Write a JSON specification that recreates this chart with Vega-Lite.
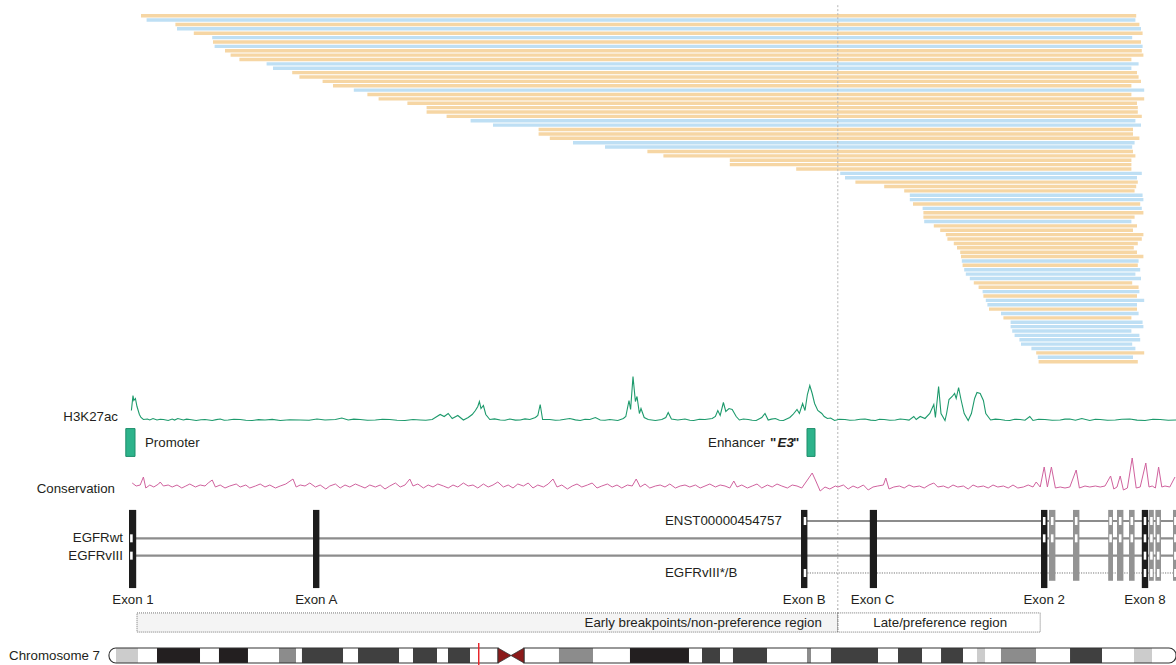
{
"$schema": "https://vega.github.io/schema/vega-lite/v6.json",
"padding": 0,
"spacing": 0,
"bounds": "flush",
"background": "white",
"resolve": {"scale": {"fill": "independent", "color": "independent"}},
"config": {"view": {"stroke": null}, "concat": {"spacing": 0}, "text": {"font": "Liberation Sans", "fontSize": 13.3, "color": "#231f20"}},
"datasets": {
"deletions": [
{"row":0,"start":1.0,"end":125.4,"group":"A"},{"row":1,"start":1.7,"end":125.3,"group":"B"},{"row":2,"start":5.3,"end":125.8,"group":"A"},{"row":3,"start":5.5,"end":126.0,"group":"B"},
{"row":4,"start":7.6,"end":126.2,"group":"A"},{"row":5,"start":9.9,"end":124.9,"group":"B"},{"row":6,"start":10.0,"end":126.0,"group":"A"},{"row":7,"start":10.2,"end":126.2,"group":"B"},
{"row":8,"start":11.5,"end":126.1,"group":"A"},{"row":9,"start":12.2,"end":126.3,"group":"A"},{"row":10,"start":13.3,"end":124.8,"group":"A"},{"row":11,"start":16.7,"end":125.7,"group":"B"},
{"row":12,"start":17.5,"end":124.8,"group":"B"},{"row":13,"start":19.9,"end":125.5,"group":"A"},{"row":14,"start":20.8,"end":125.7,"group":"A"},{"row":15,"start":23.7,"end":126.0,"group":"A"},
{"row":16,"start":25.0,"end":124.8,"group":"A"},{"row":17,"start":27.6,"end":126.4,"group":"B"},{"row":18,"start":29.3,"end":124.8,"group":"A"},{"row":19,"start":30.7,"end":126.4,"group":"A"},
{"row":20,"start":34.3,"end":125.5,"group":"A"},{"row":21,"start":36.7,"end":125.6,"group":"A"},{"row":22,"start":36.7,"end":125.6,"group":"A"},{"row":23,"start":39.2,"end":126.1,"group":"A"},
{"row":24,"start":42.2,"end":125.3,"group":"B"},{"row":25,"start":45.0,"end":126.0,"group":"B"},{"row":26,"start":50.7,"end":125.0,"group":"A"},{"row":27,"start":50.7,"end":125.0,"group":"A"},
{"row":28,"start":52.1,"end":125.8,"group":"A"},{"row":29,"start":55.0,"end":125.2,"group":"B"},{"row":30,"start":59.0,"end":124.9,"group":"B"},{"row":31,"start":64.3,"end":125.0,"group":"A"},
{"row":32,"start":66.3,"end":125.3,"group":"A"},{"row":33,"start":74.6,"end":124.8,"group":"A"},{"row":34,"start":74.6,"end":124.8,"group":"A"},{"row":35,"start":82.9,"end":124.8,"group":"A"},
{"row":36,"start":88.4,"end":126.1,"group":"B"},{"row":37,"start":89.0,"end":125.5,"group":"B"},{"row":38,"start":90.3,"end":125.6,"group":"A"},{"row":39,"start":93.9,"end":125.4,"group":"A"},
{"row":40,"start":96.4,"end":125.2,"group":"A"},{"row":41,"start":97.1,"end":126.2,"group":"B"},{"row":42,"start":97.1,"end":126.3,"group":"B"},{"row":43,"start":97.5,"end":125.9,"group":"A"},
{"row":44,"start":98.7,"end":126.1,"group":"B"},{"row":45,"start":98.8,"end":126.3,"group":"A"},{"row":46,"start":98.8,"end":125.2,"group":"A"},{"row":47,"start":98.9,"end":124.8,"group":"B"},
{"row":48,"start":100.1,"end":125.5,"group":"A"},{"row":49,"start":100.9,"end":125.0,"group":"A"},{"row":50,"start":101.6,"end":126.3,"group":"A"},{"row":51,"start":101.8,"end":126.1,"group":"A"},
{"row":52,"start":102.6,"end":125.6,"group":"A"},{"row":53,"start":103.0,"end":125.1,"group":"A"},{"row":54,"start":103.4,"end":125.5,"group":"A"},{"row":55,"start":103.5,"end":126.3,"group":"A"},
{"row":56,"start":103.6,"end":125.7,"group":"B"},{"row":57,"start":103.7,"end":125.6,"group":"A"},{"row":58,"start":103.9,"end":125.9,"group":"B"},{"row":59,"start":104.1,"end":125.3,"group":"B"},
{"row":60,"start":104.6,"end":126.0,"group":"B"},{"row":61,"start":105.1,"end":124.9,"group":"A"},{"row":62,"start":105.7,"end":125.7,"group":"A"},{"row":63,"start":106.2,"end":125.8,"group":"B"},
{"row":64,"start":106.3,"end":125.5,"group":"A"},{"row":65,"start":106.6,"end":126.4,"group":"B"},{"row":66,"start":106.8,"end":125.5,"group":"B"},{"row":67,"start":107.0,"end":125.5,"group":"A"},
{"row":68,"start":108.5,"end":125.7,"group":"B"},{"row":69,"start":108.8,"end":124.8,"group":"A"},{"row":70,"start":109.7,"end":126.2,"group":"B"},{"row":71,"start":109.7,"end":126.3,"group":"B"},
{"row":72,"start":109.9,"end":124.8,"group":"B"},{"row":73,"start":110.2,"end":125.8,"group":"B"},{"row":74,"start":110.8,"end":125.9,"group":"B"},{"row":75,"start":111.0,"end":124.9,"group":"B"},
{"row":76,"start":112.3,"end":125.3,"group":"B"},{"row":77,"start":112.9,"end":126.4,"group":"A"},{"row":78,"start":113.1,"end":125.0,"group":"B"},{"row":79,"start":113.2,"end":125.6,"group":"A"}
],
"h3k27ac": [
{"pos":-0.2,"v":10},{"pos":0.0,"v":25},{"pos":0.1,"v":20},{"pos":0.3,"v":22},{"pos":0.5,"v":14},{"pos":0.8,"v":6},{"pos":1.0,"v":3},{"pos":1.3,"v":1},{"pos":1.8,"v":1.5},{"pos":2.1,"v":0.5},
{"pos":2.5,"v":2},{"pos":3.0,"v":0.5},{"pos":3.4,"v":1.2},{"pos":3.8,"v":1},{"pos":4.4,"v":0},{"pos":4.9,"v":1.5},{"pos":5.2,"v":0.4},{"pos":5.6,"v":2},{"pos":6.3,"v":0.5},{"pos":6.7,"v":1.4},{"pos":7.1,"v":1},{"pos":7.9,"v":0},{"pos":8.5,"v":0.8},{"pos":9.0,"v":1},
{"pos":9.9,"v":0},{"pos":10.4,"v":0.9},{"pos":10.9,"v":1.5},{"pos":11.4,"v":0.2},{"pos":11.9,"v":0.5},{"pos":12.6,"v":1.3},{"pos":13.4,"v":1},{"pos":14.1,"v":0.3},{"pos":14.9,"v":0},{"pos":15.7,"v":0.9},{"pos":16.5,"v":0.5},{"pos":17.4,"v":1.1},{"pos":18.4,"v":0},{"pos":19.6,"v":0.8},{"pos":20.9,"v":0.5},{"pos":22.0,"v":0.3},{"pos":23.0,"v":1.5},{"pos":24.0,"v":0.5},
{"pos":25.3,"v":1},{"pos":26.1,"v":2.5},{"pos":26.9,"v":0.5},{"pos":27.6,"v":1.4},{"pos":28.4,"v":1},{"pos":29.3,"v":0.2},{"pos":30.3,"v":0.5},{"pos":31.2,"v":1.3},{"pos":32.1,"v":1},{"pos":33.0,"v":0.3},{"pos":34.0,"v":0},{"pos":35.0,"v":1},{"pos":35.9,"v":0.5},{"pos":36.6,"v":0.2},{"pos":37.4,"v":1},{"pos":38.4,"v":6},
{"pos":38.9,"v":4},{"pos":39.4,"v":7},{"pos":39.9,"v":2},{"pos":40.6,"v":5},{"pos":41.3,"v":0.5},{"pos":41.9,"v":3},{"pos":42.4,"v":6},{"pos":42.8,"v":10},{"pos":43.1,"v":14},{"pos":43.3,"v":19},
{"pos":43.5,"v":12},{"pos":43.8,"v":15},{"pos":44.1,"v":6},{"pos":44.6,"v":1},{"pos":45.2,"v":1.6},{"pos":45.9,"v":0.5},{"pos":46.5,"v":0.2},{"pos":47.1,"v":1.5},{"pos":47.8,"v":0.4},{"pos":48.4,"v":0.5},{"pos":49.0,"v":1.6},{"pos":49.6,"v":1},{"pos":50.3,"v":3},{"pos":50.6,"v":5},
{"pos":50.9,"v":16},{"pos":51.2,"v":1},{"pos":52.1,"v":1},{"pos":52.8,"v":0.2},{"pos":53.4,"v":0.5},{"pos":54.0,"v":1.2},{"pos":54.6,"v":2},{"pos":55.3,"v":0.6},{"pos":55.9,"v":0},{"pos":56.5,"v":1.3},{"pos":57.1,"v":1},{"pos":57.8,"v":3},{"pos":58.4,"v":0.5},{"pos":59.0,"v":0.3},{"pos":59.6,"v":1},
{"pos":60.6,"v":0},{"pos":61.3,"v":2},{"pos":61.6,"v":4},{"pos":62.0,"v":20},{"pos":62.2,"v":11},{"pos":62.5,"v":44},{"pos":62.8,"v":19},{"pos":63.0,"v":24},{"pos":63.3,"v":7},{"pos":63.5,"v":12},
{"pos":63.9,"v":3},{"pos":64.4,"v":1},{"pos":65.3,"v":0},{"pos":66.1,"v":1},{"pos":66.6,"v":3},{"pos":66.9,"v":8},{"pos":67.3,"v":1.5},{"pos":68.1,"v":0.5},{"pos":69.0,"v":1.5},{"pos":69.6,"v":0.3},{"pos":70.1,"v":0},{"pos":70.8,"v":1.2},
{"pos":71.5,"v":1},{"pos":72.4,"v":2},{"pos":72.8,"v":4},{"pos":73.1,"v":10},{"pos":73.4,"v":5},{"pos":73.8,"v":18},{"pos":74.1,"v":9},{"pos":74.5,"v":12},{"pos":74.9,"v":11},{"pos":75.4,"v":4},
{"pos":75.8,"v":0.5},{"pos":76.3,"v":1.5},{"pos":76.9,"v":1},{"pos":77.4,"v":0.2},{"pos":77.9,"v":0},{"pos":78.6,"v":3},{"pos":79.0,"v":7},{"pos":79.4,"v":0.5},{"pos":79.8,"v":1.4},{"pos":80.3,"v":2},{"pos":80.8,"v":0.3},{"pos":81.3,"v":0},{"pos":82.1,"v":3},{"pos":82.5,"v":6},
{"pos":83.0,"v":11},{"pos":83.3,"v":7},{"pos":83.7,"v":17},{"pos":84.0,"v":10},{"pos":84.3,"v":26},{"pos":84.6,"v":35},{"pos":84.9,"v":27},{"pos":85.2,"v":17},{"pos":85.6,"v":10},{"pos":86.1,"v":7},
{"pos":86.4,"v":4},{"pos":86.8,"v":2},{"pos":87.2,"v":2.5},{"pos":87.7,"v":0},{"pos":88.3,"v":1.2},{"pos":89.0,"v":1},{"pos":89.6,"v":0.2},{"pos":90.3,"v":0.5},{"pos":90.9,"v":1.3},{"pos":91.5,"v":1.5},{"pos":92.2,"v":0.4},{"pos":92.8,"v":0},{"pos":93.3,"v":1.2},{"pos":93.9,"v":1},{"pos":94.6,"v":0.2},{"pos":95.3,"v":0.5},{"pos":95.9,"v":1.5},{"pos":96.5,"v":1},
{"pos":97.0,"v":0.4},{"pos":97.6,"v":4},{"pos":97.9,"v":1},{"pos":98.4,"v":4},{"pos":99.0,"v":2},{"pos":99.6,"v":7},{"pos":100.1,"v":16},{"pos":100.3,"v":3},{"pos":100.7,"v":34},{"pos":101.0,"v":7},{"pos":101.5,"v":0},
{"pos":101.7,"v":7},{"pos":102.0,"v":21},{"pos":102.4,"v":24},{"pos":102.7,"v":27},{"pos":102.9,"v":22},{"pos":103.2,"v":33},{"pos":103.5,"v":21},{"pos":103.9,"v":7},{"pos":104.4,"v":0},{"pos":104.8,"v":7},
{"pos":105.2,"v":22},{"pos":105.5,"v":28},{"pos":105.9,"v":27},{"pos":106.3,"v":20},{"pos":106.6,"v":7},{"pos":107.2,"v":0.5},{"pos":107.8,"v":1.4},{"pos":108.4,"v":1},{"pos":109.0,"v":0.2},{"pos":109.6,"v":0},{"pos":110.2,"v":1.2},{"pos":110.9,"v":1},{"pos":111.5,"v":0.3},{"pos":112.1,"v":4},
{"pos":112.5,"v":0},{"pos":113.2,"v":1.3},{"pos":114.0,"v":1},{"pos":114.9,"v":0.2},{"pos":115.9,"v":0.5},{"pos":116.5,"v":1.4},{"pos":117.1,"v":1.5},{"pos":117.8,"v":0.3},{"pos":118.6,"v":2},{"pos":119.6,"v":0},{"pos":120.3,"v":1.2},{"pos":120.9,"v":1},{"pos":121.8,"v":0.2},{"pos":122.8,"v":0.5},{"pos":123.6,"v":1.3},{"pos":124.6,"v":1.5},{"pos":125.5,"v":0.4},{"pos":126.5,"v":0},{"pos":127.5,"v":1.2},
{"pos":128.4,"v":1},{"pos":129.4,"v":0.2},{"pos":130.4,"v":0.5}
],
"conservation": [
{"pos":-0.1,"v":4},{"pos":0.4,"v":1},{"pos":0.9,"v":2},{"pos":1.3,"v":10},{"pos":1.6,"v":-1},{"pos":2.1,"v":2},{"pos":2.6,"v":0},{"pos":3.2,"v":3},{"pos":3.4,"v":5},{"pos":3.8,"v":1},
{"pos":4.4,"v":2},{"pos":4.9,"v":0},{"pos":5.5,"v":2},{"pos":6.1,"v":-1},{"pos":6.6,"v":1},{"pos":7.1,"v":3},{"pos":7.8,"v":0},{"pos":8.4,"v":2},{"pos":9.0,"v":1},{"pos":9.4,"v":4},
{"pos":9.9,"v":7},{"pos":10.3,"v":0},{"pos":10.9,"v":2},{"pos":11.5,"v":-1},{"pos":12.1,"v":1},{"pos":12.9,"v":3},{"pos":13.4,"v":0},{"pos":14.1,"v":2},{"pos":14.6,"v":-1},{"pos":15.3,"v":1},
{"pos":15.9,"v":3},{"pos":16.5,"v":0},{"pos":17.1,"v":2},{"pos":17.8,"v":-1},{"pos":18.4,"v":1},{"pos":19.1,"v":3},{"pos":20.0,"v":8},{"pos":20.4,"v":0},{"pos":20.9,"v":2},{"pos":21.5,"v":1},
{"pos":22.1,"v":4},{"pos":22.8,"v":0},{"pos":23.4,"v":2},{"pos":24.1,"v":-2},{"pos":24.6,"v":1},{"pos":25.3,"v":3},{"pos":25.9,"v":-1},{"pos":26.5,"v":2},{"pos":27.1,"v":0},{"pos":27.8,"v":3},
{"pos":28.4,"v":1},{"pos":29.0,"v":-1},{"pos":29.6,"v":2},{"pos":30.3,"v":0},{"pos":30.9,"v":2},{"pos":31.5,"v":-2},{"pos":32.1,"v":1},{"pos":32.8,"v":4},{"pos":33.4,"v":0},{"pos":34.0,"v":2},
{"pos":34.6,"v":8},{"pos":35.0,"v":1},{"pos":35.6,"v":3},{"pos":36.3,"v":-1},{"pos":36.9,"v":2},{"pos":37.5,"v":0},{"pos":38.1,"v":3},{"pos":38.8,"v":1},{"pos":39.4,"v":-1},{"pos":40.0,"v":2},
{"pos":40.6,"v":0},{"pos":41.3,"v":4},{"pos":41.9,"v":1},{"pos":42.5,"v":2},{"pos":43.1,"v":-1},{"pos":43.8,"v":3},{"pos":44.4,"v":0},{"pos":45.0,"v":2},{"pos":45.6,"v":5},{"pos":46.3,"v":0},
{"pos":46.9,"v":2},{"pos":47.5,"v":-1},{"pos":48.1,"v":3},{"pos":48.8,"v":1},{"pos":49.4,"v":4},{"pos":50.0,"v":-1},{"pos":50.6,"v":2},{"pos":51.3,"v":0},{"pos":51.9,"v":3},{"pos":52.5,"v":8},
{"pos":53.0,"v":0},{"pos":53.6,"v":2},{"pos":54.3,"v":-2},{"pos":54.9,"v":1},{"pos":55.5,"v":3},{"pos":56.1,"v":0},{"pos":56.8,"v":2},{"pos":57.4,"v":4},{"pos":58.0,"v":-1},{"pos":58.6,"v":1},
{"pos":59.3,"v":3},{"pos":59.9,"v":0},{"pos":60.5,"v":2},{"pos":61.1,"v":-1},{"pos":61.8,"v":2},{"pos":62.4,"v":1},{"pos":62.9,"v":8},{"pos":63.4,"v":0},{"pos":64.0,"v":3},{"pos":64.6,"v":-1},
{"pos":65.3,"v":1},{"pos":65.9,"v":2},{"pos":66.5,"v":0},{"pos":67.1,"v":3},{"pos":67.8,"v":-1},{"pos":68.4,"v":1},{"pos":69.0,"v":2},{"pos":69.6,"v":0},{"pos":70.3,"v":2},{"pos":70.9,"v":-1},
{"pos":71.5,"v":1},{"pos":72.1,"v":3},{"pos":72.8,"v":0},{"pos":73.4,"v":2},{"pos":74.0,"v":1},{"pos":74.6,"v":-1},{"pos":75.1,"v":6},{"pos":75.5,"v":0},{"pos":76.1,"v":2},{"pos":76.8,"v":-1},
{"pos":77.4,"v":1},{"pos":78.0,"v":3},{"pos":78.6,"v":-1},{"pos":79.3,"v":2},{"pos":79.9,"v":0},{"pos":80.5,"v":3},{"pos":81.1,"v":1},{"pos":81.8,"v":-1},{"pos":82.4,"v":2},{"pos":83.0,"v":1},
{"pos":83.6,"v":-1},{"pos":84.3,"v":7},{"pos":84.9,"v":14},{"pos":85.3,"v":7},{"pos":85.9,"v":-4},{"pos":86.5,"v":0},{"pos":87.1,"v":-2},{"pos":87.8,"v":1},{"pos":88.1,"v":0},{"pos":88.8,"v":2},
{"pos":89.4,"v":-2},{"pos":90.0,"v":1},{"pos":90.6,"v":-1},{"pos":91.3,"v":2},{"pos":91.9,"v":-3},{"pos":92.5,"v":0},{"pos":93.1,"v":1},{"pos":93.8,"v":2},{"pos":94.1,"v":9},{"pos":94.5,"v":-2},
{"pos":95.1,"v":0},{"pos":95.8,"v":1},{"pos":96.4,"v":-1},{"pos":97.0,"v":2},{"pos":97.6,"v":0},{"pos":98.3,"v":1},{"pos":98.9,"v":-1},{"pos":99.5,"v":2},{"pos":100.1,"v":4},{"pos":100.6,"v":0},
{"pos":101.3,"v":1},{"pos":101.9,"v":-1},{"pos":102.5,"v":2},{"pos":103.1,"v":0},{"pos":103.8,"v":1},{"pos":104.4,"v":-2},{"pos":105.0,"v":2},{"pos":105.6,"v":0},{"pos":106.3,"v":1},{"pos":106.9,"v":-1},
{"pos":107.5,"v":2},{"pos":108.1,"v":0},{"pos":108.8,"v":1},{"pos":109.4,"v":-1},{"pos":110.0,"v":2},{"pos":110.6,"v":-1},{"pos":111.3,"v":0},{"pos":111.9,"v":2},{"pos":112.5,"v":0},{"pos":112.9,"v":5},
{"pos":113.4,"v":0},{"pos":113.9,"v":20},{"pos":114.3,"v":0},{"pos":114.8,"v":20},{"pos":115.3,"v":-1},{"pos":115.9,"v":0},{"pos":116.5,"v":-1},{"pos":117.1,"v":0},{"pos":117.9,"v":17},{"pos":118.3,"v":-1},
{"pos":119.0,"v":1},{"pos":119.6,"v":0},{"pos":120.3,"v":1},{"pos":120.9,"v":0},{"pos":121.5,"v":1},{"pos":122.2,"v":11},{"pos":122.6,"v":-2},{"pos":123.0,"v":0},{"pos":123.4,"v":11},{"pos":123.8,"v":-3},
{"pos":124.3,"v":-1},{"pos":124.9,"v":29},{"pos":125.4,"v":-1},{"pos":125.9,"v":0},{"pos":126.6,"v":24},{"pos":127.0,"v":0},{"pos":127.4,"v":1},{"pos":127.8,"v":-1},{"pos":128.2,"v":20},{"pos":128.6,"v":0},
{"pos":129.0,"v":1},{"pos":129.6,"v":0},{"pos":130.25,"v":10}
],
"elements": [{"element":"Promoter","start":-0.9,"end":0.25},{"element":"Enhancer E3","start":84.25,"end":85.25}],
"transcripts": [
{"tx":"ENST00000454757","lane":1,"start":84.0,"end":131,"style":"solid"},
{"tx":"EGFRwt","lane":2,"start":0.0,"end":131,"style":"solid"},
{"tx":"EGFRvIII","lane":3,"start":0.0,"end":131,"style":"solid"},
{"tx":"EGFRvIII*/B","lane":4,"start":84.0,"end":131,"style":"dotted"}
],
"exons": [
{"exon":"Exon 1","start":-0.5,"end":0.4,"mid":0.0,"kind":"labeled"},
{"exon":"Exon A","start":22.5,"end":23.3,"mid":22.9,"kind":"labeled"},
{"exon":"Exon B","start":83.5,"end":84.3,"mid":83.9,"kind":"labeled"},
{"exon":"Exon C","start":92.1,"end":93.0,"mid":92.45,"kind":"labeled"},
{"exon":"Exon 2","start":113.5,"end":114.3,"mid":113.9,"kind":"labeled"},
{"exon":"Exon 3","start":114.5,"end":115.3,"mid":114.9,"kind":"other"},
{"exon":"Exon 4","start":117.5,"end":118.3,"mid":117.9,"kind":"other"},
{"exon":"Exon 5","start":121.9,"end":122.5,"mid":122.2,"kind":"other"},
{"exon":"Exon 6","start":123.0,"end":123.8,"mid":123.4,"kind":"other"},
{"exon":"Exon 7","start":124.5,"end":125.2,"mid":124.85,"kind":"other"},
{"exon":"Exon 8","start":126.1,"end":126.9,"mid":126.5,"kind":"labeled"},
{"exon":"Exon 9","start":127.0,"end":127.6,"mid":127.3,"kind":"other"},
{"exon":"Exon 10","start":127.8,"end":128.5,"mid":128.15,"kind":"other"},
{"exon":"Exon 11","start":130.0,"end":130.6,"mid":130.3,"kind":"other"}
],
"exonUsage": [
{"exon":"Exon 1","lane":2,"pos":-0.2},{"exon":"Exon 1","lane":3,"pos":-0.2},
{"exon":"Exon B","lane":1,"pos":84.0},{"exon":"Exon B","lane":4,"pos":84.0},
{"exon":"Exon 2","lane":1,"pos":113.9},{"exon":"Exon 2","lane":2,"pos":113.9},
{"exon":"Exon 3","lane":1,"pos":114.9},{"exon":"Exon 3","lane":2,"pos":114.9},
{"exon":"Exon 4","lane":1,"pos":117.9},{"exon":"Exon 4","lane":2,"pos":117.9},
{"exon":"Exon 5","lane":1,"pos":122.2},{"exon":"Exon 5","lane":2,"pos":122.2},
{"exon":"Exon 6","lane":1,"pos":123.4},{"exon":"Exon 6","lane":2,"pos":123.4},
{"exon":"Exon 7","lane":1,"pos":124.85},{"exon":"Exon 7","lane":2,"pos":124.85},
{"exon":"Exon 8","lane":1,"pos":126.5},{"exon":"Exon 8","lane":2,"pos":126.5},{"exon":"Exon 8","lane":3,"pos":126.5},{"exon":"Exon 8","lane":4,"pos":126.5},
{"exon":"Exon 9","lane":1,"pos":127.3},{"exon":"Exon 9","lane":2,"pos":127.3},{"exon":"Exon 9","lane":3,"pos":127.3},{"exon":"Exon 9","lane":4,"pos":127.3},
{"exon":"Exon 10","lane":1,"pos":128.15},{"exon":"Exon 10","lane":2,"pos":128.15},{"exon":"Exon 10","lane":3,"pos":128.15},{"exon":"Exon 10","lane":4,"pos":128.15},
{"exon":"Exon 11","lane":1,"pos":130.3},{"exon":"Exon 11","lane":2,"pos":130.3},{"exon":"Exon 11","lane":3,"pos":130.3},{"exon":"Exon 11","lane":4,"pos":130.3}
],
"regions": [
{"region":"Early breakpoints/non-preference region","start":0.5,"end":88.1,"kind":"early"},
{"region":"Late/preference region","start":88.1,"end":113.4,"kind":"late"}
],
"arms": [{"arm":"p","start":0,"end":58.08},{"arm":"q","start":61.96,"end":159.3}],
"bands": [
{"start":1.05,"end":4.33,"stain":"gpos25"},{"start":7.17,"end":13.59,"stain":"gpos100"},{"start":16.42,"end":20.75,"stain":"gpos100"},
{"start":25.38,"end":27.92,"stain":"gpos50"},{"start":28.81,"end":34.94,"stain":"gpos75"},{"start":37.18,"end":43.30,"stain":"gpos75"},
{"start":45.39,"end":48.97,"stain":"gpos75"},{"start":50.61,"end":53.90,"stain":"gpos75"},{"start":67.18,"end":72.26,"stain":"gpos50"},
{"start":77.78,"end":86.59,"stain":"gpos100"},{"start":88.53,"end":91.22,"stain":"gpos75"},{"start":93.16,"end":98.24,"stain":"gpos75"},
{"start":104.21,"end":104.81,"stain":"gpos50"},{"start":107.79,"end":114.81,"stain":"gpos75"},{"start":117.80,"end":121.38,"stain":"gpos75"},
{"start":124.22,"end":127.50,"stain":"gpos75"},{"start":129.59,"end":130.79,"stain":"gpos25"},{"start":133.17,"end":138.40,"stain":"gpos50"},
{"start":143.48,"end":148.25,"stain":"gpos75"},{"start":153.03,"end":155.72,"stain":"gpos25"}
]
},
"vconcat": [
{
"width": 1176, "height": 370,
"layer": [
{"data": {"name": "deletions"},
 "mark": {"type": "rule", "strokeWidth": 3.4, "strokeCap": "butt"},
 "encoding": {
  "x": {"field": "start", "type": "quantitative", "scale": {"domain": [-16.625, 130.375], "nice": false, "zero": false}, "axis": null},
  "x2": {"field": "end"},
  "y": {"field": "row", "type": "quantitative", "scale": {"domain": [80.9, -3.58], "nice": false, "zero": false}, "axis": null},
  "color": {"field": "group", "type": "nominal", "scale": {"domain": ["A", "B"], "range": ["#F6D6A4", "#BEDFF4"]}, "legend": null}
 }},
{"data": {"values": [{}]},
 "mark": {"type": "rule", "color": "#b5b5b5", "strokeDash": [2, 2], "strokeWidth": 1},
 "encoding": {
  "x": {"datum": 88.1, "type": "quantitative", "scale": {"domain": [-16.625, 130.375], "nice": false, "zero": false}, "axis": null},
  "y": {"datum": -2.4, "type": "quantitative", "scale": {"domain": [80.9, -3.58], "nice": false, "zero": false}, "axis": null},
  "y2": {"datum": 80.9}
 }}
]
},
{
"width": 1176, "height": 58,
"layer": [
{"data": {"values": [{}]},
 "mark": {"type": "rule", "color": "#b5b5b5", "strokeDash": [2, 2], "strokeWidth": 1},
 "encoding": {"x": {"datum": 88.1, "type": "quantitative", "scale": {"domain": [-16.625, 130.375], "nice": false, "zero": false}, "axis": null}}},
{"data": {"name": "h3k27ac"},
 "mark": {"type": "line", "color": "#1d9a6c", "strokeWidth": 1.1, "clip": true},
 "encoding": {
  "x": {"field": "pos", "type": "quantitative", "scale": {"domain": [-16.625, 130.375], "nice": false, "zero": false}, "axis": null},
  "y": {"field": "v", "type": "quantitative", "scale": {"domain": [-7.5, 50.5], "nice": false, "zero": false}, "axis": null}
 }},
{"data": {"values": [{"label": "H3K27ac"}]},
 "mark": {"type": "text", "align": "right", "baseline": "middle"},
 "encoding": {
  "x": {"datum": -1.875, "type": "quantitative", "scale": {"domain": [-16.625, 130.375], "nice": false, "zero": false}, "axis": null},
  "y": {"datum": 3.5, "type": "quantitative", "scale": {"domain": [-7.5, 50.5], "nice": false, "zero": false}, "axis": null},
  "text": {"field": "label"}
 }}
]
},
{
"width": 1176, "height": 29,
"layer": [
{"data": {"values": [{}]},
 "mark": {"type": "rule", "color": "#b5b5b5", "strokeDash": [2, 2], "strokeWidth": 1},
 "encoding": {"x": {"datum": 88.1, "type": "quantitative", "scale": {"domain": [-16.625, 130.375], "nice": false, "zero": false}, "axis": null}}},
{"data": {"name": "elements"},
 "mark": {"type": "rect", "fill": "#2db38b", "stroke": "#1e8e6b", "strokeWidth": 1},
 "encoding": {
  "x": {"field": "start", "type": "quantitative", "scale": {"domain": [-16.625, 130.375], "nice": false, "zero": false}, "axis": null},
  "x2": {"field": "end"},
  "y": {"datum": 0.02, "type": "quantitative", "scale": {"domain": [0, 1], "nice": false, "zero": false}, "axis": null},
  "y2": {"datum": 0.98}
 }},
{"data": {"values": [{"label": "Promoter"}]},
 "mark": {"type": "text", "align": "left", "baseline": "middle"},
 "encoding": {
  "x": {"datum": 1.5, "type": "quantitative", "scale": {"domain": [-16.625, 130.375], "nice": false, "zero": false}, "axis": null},
  "y": {"datum": 0.5, "type": "quantitative", "scale": {"domain": [0, 1], "nice": false, "zero": false}, "axis": null},
  "text": {"field": "label"}
 }},
{"data": {"values": [{"label": "Enhancer"}]},
 "mark": {"type": "text", "align": "right", "baseline": "middle"},
 "encoding": {
  "x": {"datum": 79.0, "type": "quantitative", "scale": {"domain": [-16.625, 130.375], "nice": false, "zero": false}, "axis": null},
  "y": {"datum": 0.5, "type": "quantitative", "scale": {"domain": [0, 1], "nice": false, "zero": false}, "axis": null},
  "text": {"field": "label"}
 }},
{"data": {"values": [{"label": "\"", "at": 80.4}, {"label": "\"", "at": 83.3}]},
 "mark": {"type": "text", "align": "right", "baseline": "middle", "fontWeight": "bold"},
 "encoding": {
  "x": {"field": "at", "type": "quantitative", "scale": {"domain": [-16.625, 130.375], "nice": false, "zero": false}, "axis": null},
  "y": {"datum": 0.5, "type": "quantitative", "scale": {"domain": [0, 1], "nice": false, "zero": false}, "axis": null},
  "text": {"field": "label"}
 }},
{"data": {"values": [{"label": "E3"}]},
 "mark": {"type": "text", "align": "right", "baseline": "middle", "fontWeight": "bold", "fontStyle": "italic"},
 "encoding": {
  "x": {"datum": 82.6, "type": "quantitative", "scale": {"domain": [-16.625, 130.375], "nice": false, "zero": false}, "axis": null},
  "y": {"datum": 0.5, "type": "quantitative", "scale": {"domain": [0, 1], "nice": false, "zero": false}, "axis": null},
  "text": {"field": "label"}
 }}
]
},
{
"width": 1176, "height": 48,
"layer": [
{"data": {"values": [{}]},
 "mark": {"type": "rule", "color": "#b5b5b5", "strokeDash": [2, 2], "strokeWidth": 1},
 "encoding": {"x": {"datum": 88.1, "type": "quantitative", "scale": {"domain": [-16.625, 130.375], "nice": false, "zero": false}, "axis": null}}},
{"data": {"name": "conservation"},
 "mark": {"type": "line", "color": "#d0629e", "strokeWidth": 1, "clip": true},
 "encoding": {
  "x": {"field": "pos", "type": "quantitative", "scale": {"domain": [-16.625, 130.375], "nice": false, "zero": false}, "axis": null},
  "y": {"field": "v", "type": "quantitative", "scale": {"domain": [-18, 30], "nice": false, "zero": false}, "axis": null}
 }},
{"data": {"values": [{"label": "Conservation"}]},
 "mark": {"type": "text", "align": "right", "baseline": "middle"},
 "encoding": {
  "x": {"datum": -2.25, "type": "quantitative", "scale": {"domain": [-16.625, 130.375], "nice": false, "zero": false}, "axis": null},
  "y": {"datum": -2, "type": "quantitative", "scale": {"domain": [-18, 30], "nice": false, "zero": false}, "axis": null},
  "text": {"field": "label"}
 }}
]
},
{
"width": 1176, "height": 87,
"layer": [
{"data": {"values": [{}]},
 "mark": {"type": "rule", "color": "#b5b5b5", "strokeDash": [2, 2], "strokeWidth": 1},
 "encoding": {"x": {"datum": 88.1, "type": "quantitative", "scale": {"domain": [-16.625, 130.375], "nice": false, "zero": false}, "axis": null}}},
{"data": {"name": "transcripts"},
 "transform": [{"filter": "datum.style == 'solid'"}],
 "mark": {"type": "rule", "color": "#8c8c8c", "strokeWidth": 2.2, "clip": true},
 "encoding": {
  "x": {"field": "start", "type": "quantitative", "scale": {"domain": [-16.625, 130.375], "nice": false, "zero": false}, "axis": null},
  "x2": {"field": "end"},
  "y": {"field": "lane", "type": "quantitative", "scale": {"domain": [5.097, 0.077], "nice": false, "zero": false}, "axis": null}
 }},
{"data": {"name": "transcripts"},
 "transform": [{"filter": "datum.style == 'dotted'"}],
 "mark": {"type": "rule", "color": "#777777", "strokeWidth": 1, "strokeDash": [1.2, 1.2], "clip": true},
 "encoding": {
  "x": {"field": "start", "type": "quantitative", "scale": {"domain": [-16.625, 130.375], "nice": false, "zero": false}, "axis": null},
  "x2": {"field": "end"},
  "y": {"field": "lane", "type": "quantitative", "scale": {"domain": [5.097, 0.077], "nice": false, "zero": false}, "axis": null}
 }},
{"data": {"name": "exons"},
 "transform": [{"filter": "datum.kind == 'other'"}],
 "mark": {"type": "rect", "fill": "#939393", "clip": true},
 "encoding": {
  "x": {"field": "start", "type": "quantitative", "scale": {"domain": [-16.625, 130.375], "nice": false, "zero": false}, "axis": null},
  "x2": {"field": "end"},
  "y": {"datum": 0.36, "type": "quantitative", "scale": {"domain": [5.097, 0.077], "nice": false, "zero": false}, "axis": null},
  "y2": {"datum": 4.45}
 }},
{"data": {"name": "exons"},
 "transform": [{"filter": "datum.kind == 'labeled'"}],
 "mark": {"type": "rect", "fill": "#1c1c1c"},
 "encoding": {
  "x": {"field": "start", "type": "quantitative", "scale": {"domain": [-16.625, 130.375], "nice": false, "zero": false}, "axis": null},
  "x2": {"field": "end"},
  "y": {"datum": 0.36, "type": "quantitative", "scale": {"domain": [5.097, 0.077], "nice": false, "zero": false}, "axis": null},
  "y2": {"datum": 4.87}
 }},
{"data": {"name": "exonUsage"},
 "mark": {"type": "tick", "orient": "vertical", "size": 8, "thickness": 2.6, "color": "white", "opacity": 1, "clip": true},
 "encoding": {
  "x": {"field": "pos", "type": "quantitative", "scale": {"domain": [-16.625, 130.375], "nice": false, "zero": false}, "axis": null},
  "y": {"field": "lane", "type": "quantitative", "scale": {"domain": [5.097, 0.077], "nice": false, "zero": false}, "axis": null}
 }},
{"data": {"name": "transcripts"},
 "transform": [{"filter": "datum.lane == 2 || datum.lane == 3"}],
 "mark": {"type": "text", "align": "right", "baseline": "middle"},
 "encoding": {
  "x": {"datum": -1.25, "type": "quantitative", "scale": {"domain": [-16.625, 130.375], "nice": false, "zero": false}, "axis": null},
  "y": {"field": "lane", "type": "quantitative", "scale": {"domain": [5.097, 0.077], "nice": false, "zero": false}, "axis": null},
  "text": {"field": "tx"}
 }},
{"data": {"name": "transcripts"},
 "transform": [{"filter": "datum.lane == 1 || datum.lane == 4"}],
 "mark": {"type": "text", "align": "left", "baseline": "middle"},
 "encoding": {
  "x": {"datum": 66.5, "type": "quantitative", "scale": {"domain": [-16.625, 130.375], "nice": false, "zero": false}, "axis": null},
  "y": {"field": "lane", "type": "quantitative", "scale": {"domain": [5.097, 0.077], "nice": false, "zero": false}, "axis": null},
  "text": {"field": "tx"}
 }}
]
},
{
"width": 1176, "height": 16,
"layer": [
{"data": {"values": [{}]},
 "mark": {"type": "rule", "color": "#b5b5b5", "strokeDash": [2, 2], "strokeWidth": 1},
 "encoding": {"x": {"datum": 88.1, "type": "quantitative", "scale": {"domain": [-16.625, 130.375], "nice": false, "zero": false}, "axis": null}}},
{"data": {"name": "exons"},
 "transform": [{"filter": "datum.kind == 'labeled'"}],
 "mark": {"type": "text", "align": "center", "baseline": "middle"},
 "encoding": {
  "x": {"field": "mid", "type": "quantitative", "scale": {"domain": [-16.625, 130.375], "nice": false, "zero": false}, "axis": null},
  "text": {"field": "exon"}
 }}
]
},
{
"width": 1176, "height": 29,
"layer": [
{"data": {"name": "regions"},
 "mark": {"type": "rect", "stroke": "#555555", "strokeWidth": 0.8, "strokeDash": [1, 1]},
 "encoding": {
  "x": {"field": "start", "type": "quantitative", "scale": {"domain": [-16.625, 130.375], "nice": false, "zero": false}, "axis": null},
  "x2": {"field": "end"},
  "y": {"datum": 0.17, "type": "quantitative", "scale": {"domain": [0, 1], "nice": false, "zero": false}, "axis": null},
  "y2": {"datum": 0.83},
  "fill": {"field": "kind", "type": "nominal", "scale": {"domain": ["early", "late"], "range": ["#f4f4f4", "#ffffff"]}, "legend": null}
 }},
{"data": {"values": [{}]},
 "mark": {"type": "rule", "color": "#9a9a9a", "strokeDash": [2, 2], "strokeWidth": 1},
 "encoding": {
  "x": {"datum": 88.1, "type": "quantitative", "scale": {"domain": [-16.625, 130.375], "nice": false, "zero": false}, "axis": null},
  "y": {"datum": 1, "type": "quantitative", "scale": {"domain": [0, 1], "nice": false, "zero": false}, "axis": null},
  "y2": {"datum": 0.17}
 }},
{"data": {"name": "regions"},
 "transform": [{"filter": "datum.kind == 'early'"}],
 "mark": {"type": "text", "align": "right", "baseline": "middle"},
 "encoding": {
  "x": {"datum": 86.1, "type": "quantitative", "scale": {"domain": [-16.625, 130.375], "nice": false, "zero": false}, "axis": null},
  "y": {"datum": 0.5, "type": "quantitative", "scale": {"domain": [0, 1], "nice": false, "zero": false}, "axis": null},
  "text": {"field": "region"}
 }},
{"data": {"name": "regions"},
 "transform": [{"filter": "datum.kind == 'late'"}],
 "mark": {"type": "text", "align": "center", "baseline": "middle"},
 "encoding": {
  "x": {"datum": 100.9, "type": "quantitative", "scale": {"domain": [-16.625, 130.375], "nice": false, "zero": false}, "axis": null},
  "y": {"datum": 0.5, "type": "quantitative", "scale": {"domain": [0, 1], "nice": false, "zero": false}, "axis": null},
  "text": {"field": "region"}
 }}
]
},
{
"width": 1176, "height": 28,
"layer": [
{"data": {"name": "arms"},
 "mark": {"type": "rect", "fill": "white", "cornerRadius": 6},
 "encoding": {
  "x": {"field": "start", "type": "quantitative", "scale": {"domain": [-16.27, 159.3], "nice": false, "zero": false}, "axis": null},
  "x2": {"field": "end"},
  "y": {"datum": 0.393, "type": "quantitative", "scale": {"domain": [1, 0], "nice": false, "zero": false}, "axis": null},
  "y2": {"datum": 0.929}
 }},
{"data": {"name": "bands"},
 "mark": {"type": "rect"},
 "encoding": {
  "x": {"field": "start", "type": "quantitative", "scale": {"domain": [-16.27, 159.3], "nice": false, "zero": false}, "axis": null},
  "x2": {"field": "end"},
  "y": {"datum": 0.393, "type": "quantitative", "scale": {"domain": [1, 0], "nice": false, "zero": false}, "axis": null},
  "y2": {"datum": 0.929},
  "fill": {"field": "stain", "type": "nominal", "scale": {"domain": ["gpos25", "gpos50", "gpos75", "gpos100"], "range": ["#cccccc", "#8c8c8c", "#404040", "#231f20"]}, "legend": null}
 }},
{"data": {"name": "arms"},
 "transform": [{"filter": "datum.arm == 'p'"}],
 "mark": {"type": "rect", "fillOpacity": 0, "stroke": "#333333", "strokeWidth": 1.1, "cornerRadiusTopLeft": 7, "cornerRadiusBottomLeft": 7},
 "encoding": {
  "x": {"field": "start", "type": "quantitative", "scale": {"domain": [-16.27, 159.3], "nice": false, "zero": false}, "axis": null},
  "x2": {"field": "end"},
  "y": {"datum": 0.393, "type": "quantitative", "scale": {"domain": [1, 0], "nice": false, "zero": false}, "axis": null},
  "y2": {"datum": 0.929}
 }},
{"data": {"name": "arms"},
 "transform": [{"filter": "datum.arm == 'q'"}],
 "mark": {"type": "rect", "fillOpacity": 0, "stroke": "#333333", "strokeWidth": 1.1, "cornerRadiusTopRight": 7, "cornerRadiusBottomRight": 7},
 "encoding": {
  "x": {"field": "start", "type": "quantitative", "scale": {"domain": [-16.27, 159.3], "nice": false, "zero": false}, "axis": null},
  "x2": {"field": "end"},
  "y": {"datum": 0.393, "type": "quantitative", "scale": {"domain": [1, 0], "nice": false, "zero": false}, "axis": null},
  "y2": {"datum": 0.929}
 }},
{"data": {"values": [{"band": "centromere", "pos": 60.02}]},
 "mark": {"type": "point", "shape": "M-1,-0.577L1,0.577L1,-0.577L-1,0.577Z", "size": 676, "filled": true, "fill": "#8b1a1a", "stroke": "#333333", "strokeWidth": 0.8, "opacity": 1},
 "encoding": {
  "x": {"field": "pos", "type": "quantitative", "scale": {"domain": [-16.27, 159.3], "nice": false, "zero": false}, "axis": null},
  "y": {"datum": 0.661, "type": "quantitative", "scale": {"domain": [1, 0], "nice": false, "zero": false}, "axis": null}
 }},
{"data": {"values": [{"gene": "EGFR", "pos": 55.2}]},
 "mark": {"type": "rule", "color": "#e8262b", "strokeWidth": 1.5},
 "encoding": {
  "x": {"field": "pos", "type": "quantitative", "scale": {"domain": [-16.27, 159.3], "nice": false, "zero": false}, "axis": null},
  "y": {"datum": 0.214, "type": "quantitative", "scale": {"domain": [1, 0], "nice": false, "zero": false}, "axis": null},
  "y2": {"datum": 1}
 }},
{"data": {"values": [{"label": "Chromosome 7"}]},
 "mark": {"type": "text", "align": "right", "baseline": "middle"},
 "encoding": {
  "x": {"datum": -1.34, "type": "quantitative", "scale": {"domain": [-16.27, 159.3], "nice": false, "zero": false}, "axis": null},
  "y": {"datum": 0.68, "type": "quantitative", "scale": {"domain": [1, 0], "nice": false, "zero": false}, "axis": null},
  "text": {"field": "label"}
 }}
]
}
]
}
